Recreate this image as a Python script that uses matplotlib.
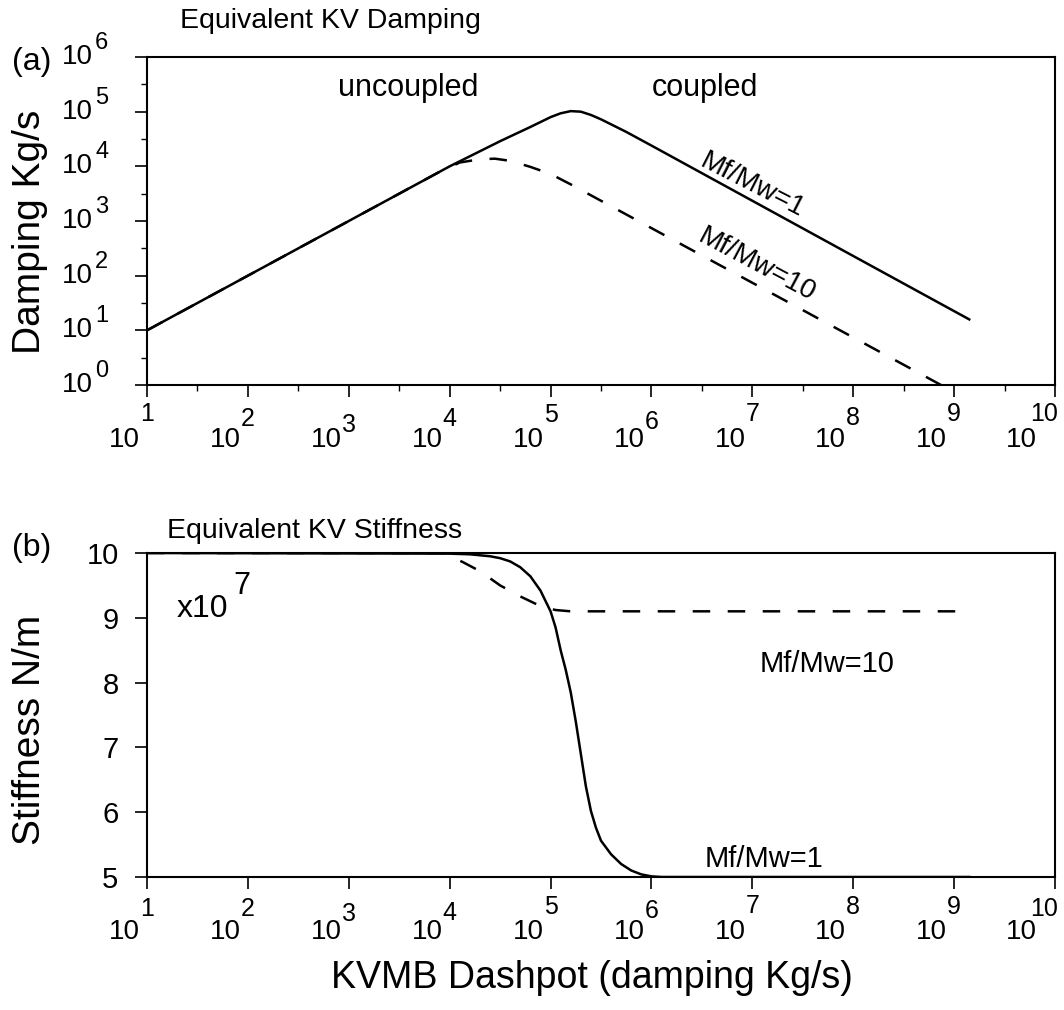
import matplotlib
matplotlib.use("Agg")
import matplotlib.pyplot as plt
import numpy as np
from matplotlib.ticker import FixedLocator, NullFormatter

plt.rcParams['font.family'] = ['Liberation Sans', 'DejaVu Sans']

# (a) damping curves, read as decades: log10(dashpot) -> log10(damping)
damp_lx_1 = [1.0, 2.0, 3.0, 4.0, 4.5, 4.8, 5.0, 5.1, 5.2, 5.3, 5.4, 5.5, 5.75, 6.0, 7.0, 8.0, 9.15]
damp_ly_1 = [1.0, 2.0, 3.0, 4.0, 4.46, 4.72, 4.9, 4.97, 5.01, 5.0, 4.94, 4.86, 4.63, 4.38, 3.37, 2.36, 1.2]
damp_lx_10 = [1.0, 3.0, 3.9, 4.1, 4.3, 4.45, 4.6, 4.8, 5.0, 5.2, 5.5, 6.0, 7.0, 8.0, 9.15]
damp_ly_10 = [1.0, 3.0, 3.9, 4.07, 4.13, 4.14, 4.1, 3.99, 3.86, 3.67, 3.37, 2.87, 1.87, 0.87, -0.28]

# (b) stiffness curves (x1e7 N/m) vs log10(dashpot)
stiff_lx_1 = [1.0, 4.0, 4.2, 4.4, 4.5, 4.6, 4.7, 4.8, 4.9, 5.0, 5.05, 5.1, 5.15, 5.2, 5.25,
              5.3, 5.35, 5.4, 5.45, 5.5, 5.6, 5.7, 5.8, 5.9, 6.0, 6.1, 9.15]
stiff_y_1 = [10.0, 9.99, 9.98, 9.95, 9.92, 9.87, 9.78, 9.64, 9.42, 9.1, 8.85, 8.5, 8.2, 7.85, 7.4,
             6.9, 6.4, 6.02, 5.76, 5.56, 5.35, 5.2, 5.1, 5.04, 5.01, 5.0, 5.0]
stiff_lx_10 = [1.0, 3.93, 4.13, 4.3, 4.5, 4.7, 4.9, 5.05, 5.2, 9.15]
stiff_y_10 = [10.0, 10.0, 9.86, 9.72, 9.5, 9.33, 9.18, 9.12, 9.1, 9.1]

x_exps = list(range(1, 11))
y_exps = list(range(0, 7))
stiff_ticks = [5, 6, 7, 8, 9, 10]

W, H = 1064, 1010


def px(x, y):
    return x / W, 1 - y / H


def xlabels(ax, dys):
    for e, dy in zip(x_exps, dys):
        sh = -8 if e == 10 else 0
        ax.annotate('10', xy=(10.0 ** e, 0), xycoords=('data', 'axes fraction'),
                    xytext=(-5 + sh, -44.6), textcoords='offset points',
                    ha='right', va='baseline', fontsize=20, annotation_clip=False)
        ax.annotate(str(e), xy=(10.0 ** e, 0), xycoords=('data', 'axes fraction'),
                    xytext=(sh, -28.8 + dy), textcoords='offset points',
                    ha='center', va='baseline', fontsize=18, annotation_clip=False)


def style(ax):
    for s in ax.spines.values():
        s.set_linewidth(1.5)
    ax.tick_params(which='major', direction='out', length=8.5, width=1.2)
    ax.tick_params(which='minor', direction='out', length=4, width=1.0)
    ax.tick_params(axis='x', labelbottom=False)


fig = plt.figure(figsize=(W / 100, H / 100), dpi=100)
ax1 = fig.add_axes([147 / W, 1 - 385 / H, 908 / W, 328 / H])
ax2 = fig.add_axes([147 / W, 1 - 877 / H, 908 / W, 324 / H])

# ---- (a) damping
ax1.plot(10.0 ** np.array(damp_lx_1), 10.0 ** np.array(damp_ly_1), color='black', lw=1.8)
l, = ax1.plot(10.0 ** np.array(damp_lx_10), 10.0 ** np.array(damp_ly_10), color='black', lw=1.8)
l.set_dashes((7, 7))
ax1.set_xscale('log')
ax1.set_yscale('log')
ax1.set_xlim(1e1, 1e10)
ax1.set_ylim(1e0, 1e6)
ax1.xaxis.set_major_locator(FixedLocator([10.0 ** e for e in x_exps]))
ax1.xaxis.set_minor_locator(FixedLocator([10.0 ** (e + 0.5) for e in x_exps[:-1]]))
ax1.yaxis.set_major_locator(FixedLocator([10.0 ** e for e in y_exps]))
ax1.yaxis.set_minor_locator(FixedLocator([10.0 ** (e + 0.5) for e in y_exps[:-1]]))
for a in (ax1.xaxis, ax1.yaxis):
    a.set_minor_formatter(NullFormatter())
style(ax1)
ax1.tick_params(axis='y', labelleft=False)
xlabels(ax1, [3, -1, -5, -1, 2, -3, 3, 0, 3, 3])
for e in y_exps:
    ax1.annotate('10', xy=(0, 10.0 ** e), xycoords=('axes fraction', 'data'),
                 xytext=(-39, 0), textcoords='offset points',
                 ha='right', va='center', fontsize=20, annotation_clip=False)
    ax1.annotate(str(e), xy=(0, 10.0 ** e), xycoords=('axes fraction', 'data'),
                 xytext=(-37.4, 5.8), textcoords='offset points',
                 ha='left', va='baseline', fontsize=17, annotation_clip=False)

# ---- (b) stiffness
ax2.plot(10.0 ** np.array(stiff_lx_1), stiff_y_1, color='black', lw=1.8)
l, = ax2.plot(10.0 ** np.array(stiff_lx_10), stiff_y_10, color='black', lw=1.8)
l.set_dashes((7, 7))
ax2.set_xscale('log')
ax2.set_xlim(1e1, 1e10)
ax2.set_ylim(5, 10)
ax2.xaxis.set_major_locator(FixedLocator([10.0 ** e for e in x_exps]))
ax2.xaxis.set_minor_locator(FixedLocator([]))
ax2.set_yticks(stiff_ticks)
style(ax2)
ax2.tick_params(axis='y', labelsize=21, pad=12)
xlabels(ax2, [1, 1, -3, -2, 2, -1, 3, 2, 2, 1])

# ---- texts
fig.text(*px(180, 28), 'Equivalent KV Damping', fontsize=20.5, va='baseline')
fig.text(*px(167, 538), 'Equivalent KV Stiffness', fontsize=20.5, va='baseline')
fig.text(*px(12, 70), '(a)', fontsize=23, va='baseline')
fig.text(*px(12, 556), '(b)', fontsize=23, va='baseline')
fig.text(*px(30, 232), 'Damping Kg/s', fontsize=28, rotation=90, ha='center', va='center')
fig.text(*px(30, 730), 'Stiffness N/m', fontsize=28, rotation=90, ha='center', va='center')
fig.text(*px(592, 988), 'KVMB Dashpot (damping Kg/s)', fontsize=27, ha='center', va='baseline')
fig.text(*px(338, 96), 'uncoupled', fontsize=22, va='baseline')
fig.text(*px(652, 96), 'coupled', fontsize=22, va='baseline')
fig.text(*px(752, 185), 'Mf/Mw=1', fontsize=20, rotation=-27, ha='center', va='center',
         rotation_mode='anchor')
fig.text(*px(757, 265), 'Mf/Mw=10', fontsize=20, rotation=-28, ha='center', va='center',
         rotation_mode='anchor')
fig.text(*px(177, 617), 'x10', fontsize=23, va='baseline')
fig.text(*px(233, 594), '7', fontsize=22, va='baseline')
fig.text(*px(760, 672), 'Mf/Mw=10', fontsize=21, va='baseline')
fig.text(*px(705, 867), 'Mf/Mw=1', fontsize=21, va='baseline')

fig.savefig('out.png', dpi=100)
